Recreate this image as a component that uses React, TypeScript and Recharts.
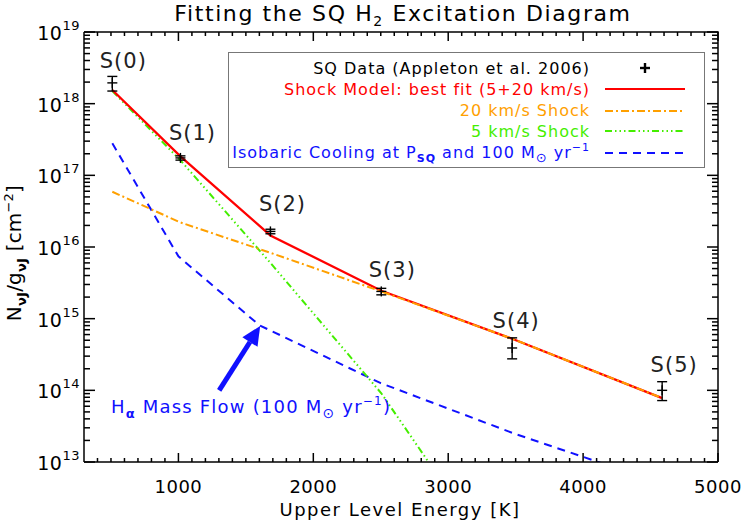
import React from 'react';
import {
  ComposedChart,
  Line,
  Scatter,
  ErrorBar,
  XAxis,
  YAxis,
  ReferenceLine,
  ReferenceDot,
} from 'recharts';

// H2 pure-rotational lines and their upper level energies [K]
const levels = ['S(0)', 'S(1)', 'S(2)', 'S(3)', 'S(4)', 'S(5)'];
const upperEnergy = [510, 1015, 1682, 2504, 3474, 4586];

// SQ data (Appleton et al. 2006) N/g [cm^-2] with asymmetric errors
const sqData = [1.95e18, 1.75e17, 1.65e16, 2.4e15, 3.9e14, 1.0e14];
const sqErrLow = [4.5e17, 1.2e16, 1.2e15, 2.5e14, 1.15e14, 2.8e13];
const sqErrHigh = [4.5e17, 1.2e16, 1.2e15, 2.5e14, 1.5e14, 3.2e13];

// shock models at the same levels
const bestFit = [1.55e18, 1.84e17, 1.45e16, 2.45e15, 5.25e14, 7.8e13];
const shock20 = [5.9e16, 2.2e16, 8.3e15, 2.4e15, 5.25e14, 7.8e13];
const shock5 = [1.5e18, 1.62e17, 6.0e15, 9.1e13, 2.0e11, 1.6e9];

// isobaric cooling model
const coolingEnergy = [510, 1000, 1600, 2500, 3500, 4600];
const isobaricCooling = [2.8e17, 7.4e15, 8.1e14, 1.26e14, 2.45e13, 4.9e12];

const xTickLabels = [1000, 2000, 3000, 4000, 5000];
const yTickExponents = [13, 14, 15, 16, 17, 18, 19];

// annotation arrow (data coords)
const arrowTail = { e: 1302, n: 1.0e14 };
const arrowTip = { e: 1606, n: 7.9e14 };
const noteAnchor = { e: 500, n: 4.85e13 };

const X_MIN = 300;
const X_MAX = 5000;
const LG_MIN = 13;
const LG_MAX = 19;

// chart box
const W = 743;
const H = 522;
const MARGIN = { top: 32, right: 25, bottom: 0, left: 0 };
const Y_AXIS_W = 84;
const X_AXIS_H = 60;
const PLOT = {
  left: MARGIN.left + Y_AXIS_W,
  right: W - MARGIN.right,
  top: MARGIN.top,
  bottom: H - MARGIN.bottom - X_AXIS_H,
};

const toRows = (xs: number[], ys: number[]) => xs.map((e, i) => ({ e, n: ys[i] }));

const obsRows = upperEnergy.map((e, i) => ({
  e,
  n: sqData[i],
  err: [sqErrLow[i], sqErrHigh[i]],
  label: levels[i],
}));

const xMarkMinor: number[] = [];
for (let v = 400; v < 5000; v += 100) if (v % 1000 !== 0) xMarkMinor.push(v);
const yMarkMinor: number[] = [];
yTickExponents.slice(0, -1).forEach((p) => {
  for (let k = 2; k <= 9; k++) yMarkMinor.push(p + Math.log10(k));
});

const yAxisTicks = yTickExponents.map((p) => Math.pow(10, p));

const COLORS = {
  red: '#ff0000',
  orange: '#ffa000',
  green: '#44ee00',
  blue: '#1010ff',
};

const series = [
  { key: 'best', name: 'Shock Model: best fit (5+20 km/s)', color: COLORS.red, dash: undefined, rows: toRows(upperEnergy, bestFit) },
  { key: 's20', name: '20 km/s Shock', color: COLORS.orange, dash: '8 3 2 3', rows: toRows(upperEnergy, shock20) },
  { key: 's5', name: '5 km/s Shock', color: COLORS.green, dash: '7 3 1.5 3 1.5 3 1.5 3', rows: toRows(upperEnergy, shock5) },
  { key: 'cool', name: 'cooling', color: COLORS.blue, dash: '8 6', rows: toRows(coolingEnergy, isobaricCooling) },
];

const BottomTick = ({ x, y, payload }: any) => (
  <text x={x} y={y + 31} textAnchor="middle" fontSize={18} letterSpacing={0.5} fill="#000">
    {payload.value}
  </text>
);

const LeftTick = ({ x, y, payload }: any) => (
  <text x={x - 4} y={y + 8} textAnchor="end" fontSize={19} letterSpacing={0.5} fill="#000">
    10
    <tspan dy={-10} fontSize={13}>
      {Math.round(Math.log10(payload.value))}
    </tspan>
  </text>
);

// top and right borders of the plot box
const FrameShape = (props: any) => {
  const left = Math.min(props.x1, props.x2);
  const right = Math.max(props.x1, props.x2);
  const top = Math.min(props.y1, props.y2);
  const bottom = Math.max(props.y1, props.y2);
  return <polyline points={`${left},${top} ${right},${top} ${right},${bottom}`} stroke="#000" strokeWidth={1.5} fill="none" />;
};

// inward tick marks on all four sides of the plot box
const FrameTicks = () => {
  const w = PLOT.right - PLOT.left;
  const h = PLOT.bottom - PLOT.top;
  const xPix = (v: number) => PLOT.left + ((v - X_MIN) / (X_MAX - X_MIN)) * w;
  const yPix = (lg: number) => PLOT.bottom - ((lg - LG_MIN) / (LG_MAX - LG_MIN)) * h;
  const marks: number[][] = [];
  const xt = (v: number, len: number) => {
    const x = xPix(v);
    marks.push([x, PLOT.bottom, x, PLOT.bottom - len]);
    marks.push([x, PLOT.top, x, PLOT.top + len]);
  };
  const yt = (lg: number, len: number) => {
    const y = yPix(lg);
    marks.push([PLOT.left, y, PLOT.left + len, y]);
    marks.push([PLOT.right, y, PLOT.right - len, y]);
  };
  xTickLabels.forEach((v) => xt(v, 9));
  xMarkMinor.forEach((v) => xt(v, 4));
  yTickExponents.forEach((p) => yt(p, 11));
  yMarkMinor.forEach((lg) => yt(lg, 6));
  return (
    <g>
      {marks.map((m, i) => (
        <line key={i} x1={m[0]} y1={m[1]} x2={m[2]} y2={m[3]} stroke="#000" strokeWidth={1.5} />
      ))}
    </g>
  );
};

const labelNudge = [
  [11, -15],
  [12, -18],
  [12, -20],
  [11, -14],
  [4, -20],
  [12, -18],
];

const DataPoint = ({ cx, cy, payload }: any) => {
  const i = levels.indexOf(payload.label);
  const [dx, dy] = labelNudge[i] || [10, -17];
  return (
    <g>
      <line x1={cx - 5} y1={cy} x2={cx + 5} y2={cy} stroke="#000" strokeWidth={1.4} />
      <line x1={cx} y1={cy - 5} x2={cx} y2={cy + 5} stroke="#000" strokeWidth={1.4} />
      <text x={cx + dx} y={cy + dy} textAnchor="middle" fontSize={21} letterSpacing={1} fill="#222">
        {payload.label}
      </text>
    </g>
  );
};

const ArrowShape = ({ x1, y1, x2, y2 }: any) => {
  const len = Math.hypot(x2 - x1, y2 - y1);
  const ux = (x2 - x1) / len;
  const uy = (y2 - y1) / len;
  const head = 19;
  const hw = 9;
  const bx = x2 - ux * head;
  const by = y2 - uy * head;
  return (
    <g>
      <line x1={x1} y1={y1} x2={bx} y2={by} stroke={COLORS.blue} strokeWidth={5} />
      <polygon
        points={`${x2},${y2} ${bx - uy * hw},${by + ux * hw} ${bx + uy * hw},${by - ux * hw}`}
        fill={COLORS.blue}
      />
    </g>
  );
};

const NoteText = ({ cx, cy }: any) => (
  <text x={cx} y={cy} fontSize={18} letterSpacing={1.2} fill={COLORS.blue}>
    H
    <tspan dy={5} fontSize={13} fontWeight="bold">
      α
    </tspan>
    <tspan dy={-5}> Mass Flow (100 M</tspan>
    <tspan dy={5} fontSize={14}>
      ⊙
    </tspan>
    <tspan dy={-5}> yr</tspan>
    <tspan dy={-8} fontSize={12}>
      −1
    </tspan>
    <tspan dy={8}>)</tspan>
  </text>
);

const Titles = () => (
  <svg width={W} height={H} style={{ position: 'absolute', left: 0, top: 0, pointerEvents: 'none' }}>
    <FrameTicks />
    <text x={403} y={21} textAnchor="middle" fontSize={22} letterSpacing={1.6} fill="#000">
      Fitting the SQ H
      <tspan dy={5} fontSize={14}>
        2
      </tspan>
      <tspan dy={-5}> Excitation Diagram</tspan>
    </text>
    <text x={400} y={516} textAnchor="middle" fontSize={18} letterSpacing={1.5} fill="#000">
      Upper Level Energy [K]
    </text>
    <text x={21} y={253} transform="rotate(-90 21 253)" textAnchor="middle" fontSize={20} letterSpacing={0.2} fill="#000">
      N
      <tspan dy={5} fontSize={13} fontWeight="bold">
        νJ
      </tspan>
      <tspan dy={-5}>/g</tspan>
      <tspan dy={5} fontSize={13} fontWeight="bold">
        νJ
      </tspan>
      <tspan dy={-5}> [cm</tspan>
      <tspan dy={-8} fontSize={13}>
        −2
      </tspan>
      <tspan dy={8}>]</tspan>
    </text>
  </svg>
);

const LegendBox = () => {
  const rowsY = [22, 43, 64, 85, 106];
  const lineY = [16, 37, 59, 79, 101];
  const textRight = 362;
  const x1 = 377;
  const x2 = 457;
  return (
    <div
      style={{
        position: 'absolute',
        left: 228,
        top: 52,
        width: 477,
        height: 116,
        border: '1px solid #777',
        boxSizing: 'border-box',
        background: '#fff',
      }}
    >
      <svg width={477} height={116} style={{ position: 'absolute', left: -1, top: -1 }}>
        <text x={textRight} y={rowsY[0]} textAnchor="end" fontSize={16} letterSpacing={1} fill="#000">
          SQ Data (Appleton et al. 2006)
        </text>
        <line x1={417 - 5} y1={lineY[0]} x2={417 + 5} y2={lineY[0]} stroke="#000" strokeWidth={2.4} />
        <line x1={417} y1={lineY[0] - 5} x2={417} y2={lineY[0] + 5} stroke="#000" strokeWidth={2.4} />
        {series.slice(0, 3).map((s, i) => (
          <g key={s.key}>
            <text x={textRight} y={rowsY[i + 1]} textAnchor="end" fontSize={16} letterSpacing={1} fill={s.color}>
              {s.name}
            </text>
            <line x1={x1} y1={lineY[i + 1]} x2={x2} y2={lineY[i + 1]} stroke={s.color} strokeWidth={2.2} strokeDasharray={s.dash} />
          </g>
        ))}
        <text x={textRight} y={rowsY[4]} textAnchor="end" fontSize={16} letterSpacing={1} fill={COLORS.blue}>
          Isobaric Cooling at P
          <tspan dy={4} fontSize={11} fontWeight="bold">
            SQ
          </tspan>
          <tspan dy={-4}> and 100 M</tspan>
          <tspan dy={4} fontSize={13}>
            ⊙
          </tspan>
          <tspan dy={-4}> yr</tspan>
          <tspan dy={-7} fontSize={11}>
            −1
          </tspan>
        </text>
        <line x1={x1} y1={lineY[4]} x2={x2} y2={lineY[4]} stroke={COLORS.blue} strokeWidth={2.2} strokeDasharray={series[3].dash} />
      </svg>
    </div>
  );
};

const App = () => {
  return (
    <div
      style={{
        position: 'fixed',
        left: 0,
        top: 0,
        width: W,
        height: H,
        background: '#fff',
        fontFamily: '"DejaVu Sans", sans-serif',
        overflow: 'hidden',
      }}
    >
      <ComposedChart width={W} height={H} margin={MARGIN}>
        <XAxis
          dataKey="e"
          type="number"
          domain={[X_MIN, X_MAX]}
          allowDataOverflow
          ticks={xTickLabels}
          interval={0}
          tick={<BottomTick />}
          tickLine={false}
          tickSize={0}
          tickMargin={0}
          height={X_AXIS_H}
          axisLine={{ stroke: '#000', strokeWidth: 1.5 }}
        />
        <YAxis
          dataKey="n"
          type="number"
          scale="log"
          domain={[Math.pow(10, LG_MIN), Math.pow(10, LG_MAX)]}
          allowDataOverflow
          ticks={yAxisTicks}
          interval={0}
          tick={<LeftTick />}
          tickLine={false}
          tickSize={0}
          tickMargin={0}
          width={Y_AXIS_W}
          axisLine={{ stroke: '#000', strokeWidth: 1.5 }}
        />

        <ReferenceLine
          segment={[
            { x: X_MIN, y: Math.pow(10, LG_MIN) },
            { x: X_MAX, y: Math.pow(10, LG_MAX) },
          ]}
          shape={FrameShape}
          ifOverflow="visible"
        />

        <Line data={series[3].rows} dataKey="n" name={series[3].name} stroke={series[3].color} strokeWidth={2} strokeDasharray={series[3].dash} dot={false} activeDot={false} isAnimationActive={false} type="linear" />
        <Line data={series[2].rows} dataKey="n" name={series[2].name} stroke={series[2].color} strokeWidth={2} strokeDasharray={series[2].dash} dot={false} activeDot={false} isAnimationActive={false} type="linear" />
        <Line data={series[0].rows} dataKey="n" name={series[0].name} stroke={series[0].color} strokeWidth={2.3} dot={false} activeDot={false} isAnimationActive={false} type="linear" />
        <Line data={series[1].rows} dataKey="n" name={series[1].name} stroke={series[1].color} strokeWidth={2} strokeDasharray={series[1].dash} dot={false} activeDot={false} isAnimationActive={false} type="linear" />

        <Scatter data={obsRows} dataKey="n" name="SQ Data" shape={DataPoint} isAnimationActive={false}>
          <ErrorBar dataKey="err" direction="y" width={5} stroke="#000" strokeWidth={1.4} />
        </Scatter>

        <ReferenceLine
          segment={[
            { x: arrowTail.e, y: arrowTail.n },
            { x: arrowTip.e, y: arrowTip.n },
          ]}
          shape={ArrowShape}
          ifOverflow="visible"
        />
        <ReferenceDot x={noteAnchor.e} y={noteAnchor.n} r={1} shape={NoteText} />
      </ComposedChart>
      <LegendBox />
      <Titles />
    </div>
  );
};

export default App;
